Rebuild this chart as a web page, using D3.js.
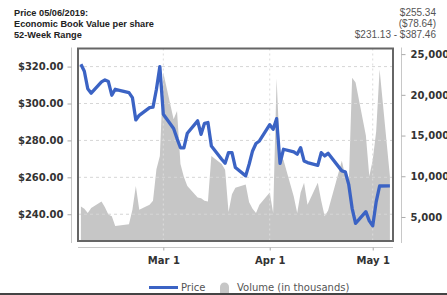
<!DOCTYPE html>
<html>
<head>
<meta charset="utf-8">
<script src="https://cdnjs.cloudflare.com/ajax/libs/d3/7.8.5/d3.min.js"></script>
<style>
  body { margin: 0; background: #fff; }
  svg { display: block; }
</style>
</head>
<body>
<div id="chart"></div>
<script>
// trading days shown in the chart
const dates = ["2019-02-05","2019-02-06","2019-02-07","2019-02-08","2019-02-11","2019-02-12","2019-02-13","2019-02-14","2019-02-15","2019-02-19","2019-02-20","2019-02-21","2019-02-22","2019-02-25","2019-02-26","2019-02-27","2019-02-28",
  "2019-03-01","2019-03-04","2019-03-05","2019-03-06","2019-03-07","2019-03-08","2019-03-11","2019-03-12","2019-03-13","2019-03-14","2019-03-15","2019-03-18","2019-03-19","2019-03-20","2019-03-21","2019-03-22","2019-03-25","2019-03-26","2019-03-27","2019-03-28","2019-03-29",
  "2019-04-01","2019-04-02","2019-04-03","2019-04-04","2019-04-05","2019-04-08","2019-04-09","2019-04-10","2019-04-11","2019-04-12","2019-04-15","2019-04-16","2019-04-17","2019-04-18","2019-04-22","2019-04-23","2019-04-24","2019-04-25","2019-04-26","2019-04-29","2019-04-30",
  "2019-05-01","2019-05-02","2019-05-03","2019-05-06"];

const price = [321.3, 317.5, 308.0, 305.6, 311.7, 312.8, 311.9, 304.5, 307.7, 305.9, 303.2, 291.1, 293.6, 297.8, 298.0, 307.7, 320.0,
  294.2, 286.5, 281.0, 276.0, 276.0, 283.9, 290.6, 283.3, 289.3, 289.7, 277.0, 269.8, 267.6, 273.4, 273.4, 265.3, 260.8, 267.1, 274.3, 278.3, 279.7,
  288.5, 286.0, 291.8, 267.6, 275.2, 273.8, 272.5, 276.1, 268.9, 268.0, 266.5, 273.4, 271.6, 273.0, 263.5, 263.0, 256.2, 243.2, 235.1, 241.4, 236.4,
  233.7, 246.7, 255.3, 255.34];

// volume, in thousands
const volume = [6300, 6000, 5500, 6100, 6900, 6200, 5300, 5100, 3900, 4100, 5900, 8800, 5900, 6500, 7000, 10850, 12500,
  22700, 17000, 18000, 11500, 9900, 8800, 7400, 7300, 7000, 6900, 12500, 11500, 10800, 5600, 7800, 8600, 9000, 6800, 6000, 5500, 6500,
  8000, 5500, 22000, 12500, 12000, 7500, 5500, 8000, 9200, 6500, 9200, 7000, 5100, 5800, 11900, 10000, 8800, 22100, 21500, 15000, 10000,
  12000, 15500, 23100, 10000];

const priceTicks = [240, 260, 280, 300, 320];
const volumeTicks = [5000, 10000, 15000, 20000, 25000];
const monthTicks = ["2019-03-01", "2019-04-01", "2019-05-01"];

const header = [
    ["Price 05/06/2019:", "$255.34"],
    ["Economic Book Value per share", "($78.64)"],
    ["52-Week Range", "$231.13 - $387.46"]
];

const W = 447, H = 295;
const box = { left: 78, right: 393, top: 48.5, bottom: 241 };
const parse = d3.timeParse("%Y-%m-%d");

const data = dates.map((d, i) => ({ date: parse(d), price: price[i], volume: volume[i] }));

const svg = d3.select("#chart").append("svg")
    .attr("width", W)
    .attr("height", H)
    .style("font-family", "'DejaVu Sans', sans-serif");

// header lines
header.forEach((row, i) => {
    svg.append("text")
        .attr("x", 14).attr("y", 16 + i * 10.8)
        .attr("font-family", "'Liberation Sans', Arial, sans-serif")
        .attr("font-weight", "bold").attr("font-size", "9.2px").attr("fill", "#222")
        .text(row[0]);
    svg.append("text")
        .attr("x", 436).attr("y", 16 + i * 10.8)
        .attr("text-anchor", "end")
        .attr("font-family", "'Liberation Sans', Arial, sans-serif")
        .attr("font-size", "10px").attr("fill", "#555")
        .text(row[1]);
});

// scales
var x = d3.scaleTime()
    .domain([parse("2019-02-05"), parse("2019-05-06")])
    .range([80.9, 389.9]);
var y = d3.scaleLinear()
    .domain([225.5, 329.8])
    .range([box.bottom, box.top]);
var yv = d3.scaleLinear()
    .domain([2050, 25690])
    .range([box.bottom, box.top]);

// volume area
svg.append("path")
    .datum(data)
    .attr("fill", "#c6c6c6")
    .attr("stroke", "none")
    .attr("d", d3.area()
        .x(d => x(d.date))
        .y0(box.bottom)
        .y1(d => yv(d.volume)));

// grid
svg.append("g").selectAll("line")
    .data(priceTicks)
    .join("line")
    .attr("x1", box.left).attr("x2", box.right)
    .attr("y1", d => y(d)).attr("y2", d => y(d))
    .attr("stroke", "#d6d6d6").attr("stroke-dasharray", "3,3");
svg.append("g").selectAll("line")
    .data(monthTicks)
    .join("line")
    .attr("x1", d => x(parse(d))).attr("x2", d => x(parse(d)))
    .attr("y1", box.top).attr("y2", box.bottom)
    .attr("stroke", "#dcdcdc").attr("stroke-dasharray", "2,3");

// price line
svg.append("path")
    .datum(data)
    .attr("fill", "none")
    .attr("stroke", "#3b63c4")
    .attr("stroke-width", 3.3)
    .attr("stroke-linejoin", "round")
    .attr("d", d3.line()
        .x(d => x(d.date))
        .y(d => y(d.price)));

// frame
svg.append("rect")
    .attr("x", box.left).attr("y", box.top)
    .attr("width", box.right - box.left).attr("height", box.bottom - box.top)
    .attr("fill", "none").attr("stroke", "#666").attr("stroke-width", 2);

// left axis
const left = svg.append("g")
    .attr("transform", "translate(71.5,0)")
    .call(d3.axisLeft(y).tickValues(priceTicks).tickSize(4).tickPadding(4)
        .tickFormat(d => "$" + d3.format(".2f")(d)));
left.select(".domain").attr("d", `M0,${box.top - 1}V${box.bottom + 2}`);

// right axis
const right = svg.append("g")
    .attr("transform", "translate(401.5,0)")
    .call(d3.axisRight(yv).tickValues(volumeTicks).tickSize(4).tickPadding(5)
        .tickFormat(d3.format(",")));
right.select(".domain").attr("d", `M0,${box.top - 1}V${box.bottom + 2}`);

// bottom axis
const bottom = svg.append("g")
    .attr("transform", "translate(0,247.5)")
    .call(d3.axisBottom(x).tickValues(monthTicks.map(parse)).tickSize(3).tickPadding(6)
        .tickFormat(d3.timeFormat("%b %-d")));
bottom.select(".domain").attr("d", `M${box.left},0H${box.right}`);

[left, right, bottom].forEach(g => {
    g.select(".domain").attr("stroke", "#c8c8c8");
    g.selectAll(".tick line").attr("stroke", "#aaa");
    g.selectAll(".tick text")
        .attr("font-family", "'DejaVu Sans', sans-serif")
        .attr("font-weight", "bold").attr("font-size", "10px").attr("fill", "#333");
});

// legend
const legend = svg.append("g");
legend.append("line")
    .attr("x1", 149).attr("x2", 178).attr("y1", 287.5).attr("y2", 287.5)
    .attr("stroke", "#3b63c4").attr("stroke-width", 3);
legend.append("text")
    .attr("x", 181).attr("y", 291)
    .attr("font-size", "10px").attr("fill", "#555")
    .text("Price");
legend.append("path")
    .attr("d", "M220,294V287A4.5,4.5 0 0 1 229,287V294Z")
    .attr("fill", "#c6c6c6");
legend.append("text")
    .attr("x", 237).attr("y", 291)
    .attr("font-size", "10px").attr("fill", "#555")
    .text("Volume (in thousands)");

// bottom border
svg.append("rect")
    .attr("x", 0).attr("y", 293).attr("width", W).attr("height", 2)
    .attr("fill", "#444");
</script>
</body>
</html>
